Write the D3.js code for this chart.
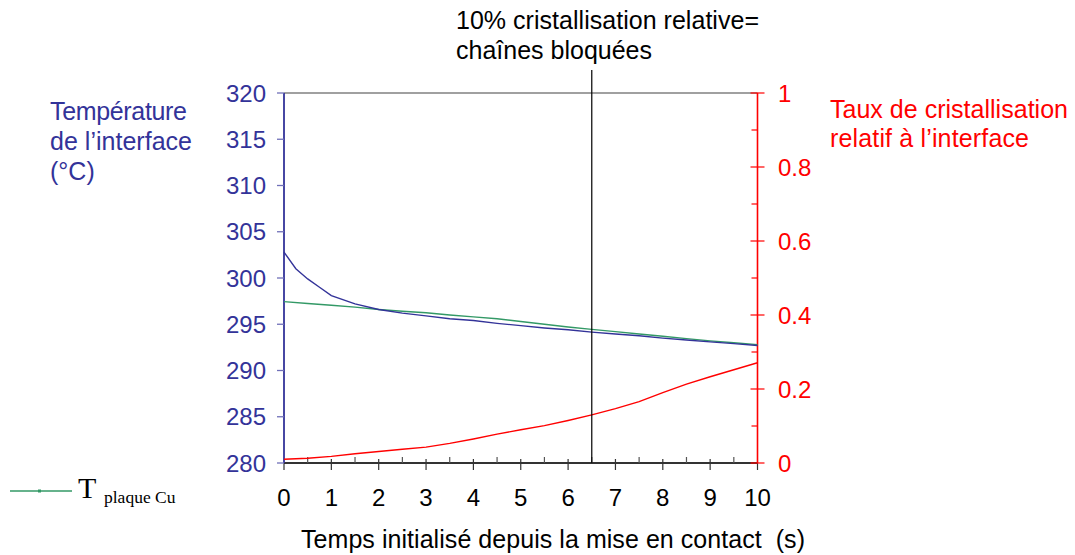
<!DOCTYPE html>
<html><head><meta charset="utf-8">
<script src="https://cdn.jsdelivr.net/npm/d3@7"></script>
<style>
html,body{margin:0;padding:0;background:#fff;}
svg{display:block;font-family:"Liberation Sans",Arial,sans-serif;}
</style></head>
<body>
<svg id="chart" width="1075" height="555"></svg>
<script>
// ---- data ----
const timeT = [0,0.25,0.5,0.75,1,1.5,2,2.5,3,3.5,4,4.5,5,5.5,6,6.5,7,7.5,8,8.5,9,9.5,10];
const tInterface = [302.8,301.0,299.9,299.0,298.1,297.2,296.6,296.2,295.9,295.6,295.4,295.1,294.85,294.6,294.4,294.15,293.95,293.75,293.5,293.3,293.1,292.9,292.7];
const timeG = [0,0.5,1,1.5,2,2.5,3,3.5,4,4.5,5,5.5,6,6.5,7,7.5,8,8.5,9,9.5,10];
const tPlaqueCu = [297.45,297.25,297.05,296.85,296.6,296.4,296.25,296.0,295.8,295.6,295.3,295.0,294.7,294.45,294.2,293.95,293.7,293.45,293.2,293.0,292.8];
const timeR = [0,0.5,1,1.5,2,2.5,3,3.5,4,4.5,5,5.5,6,6.5,7,7.5,8,8.5,9,9.5,10];
const tauxCrist = [0.010,0.013,0.018,0.025,0.031,0.037,0.043,0.053,0.065,0.078,0.090,0.101,0.115,0.130,0.147,0.166,0.190,0.213,0.233,0.252,0.271];
const xTicks = [0,1,2,3,4,5,6,7,8,9,10];
const xMinorTicks = [0.5,1.5,2.5,3.5,4.5,5.5,6.5,7.5,8.5,9.5];
const yLeftTicks = [280,285,290,295,300,305,310,315,320];
const yRightTicks = [0,0.2,0.4,0.6,0.8,1];
const yRightMinor = [0.1,0.3,0.5,0.7,0.9];
const markerTime = 6.5;

// ---- layout ----
const svg = d3.select("#chart");
const X0 = 284, X1 = 757.5, Y0 = 463, Y1 = 93;
const x = d3.scaleLinear().domain([0,10]).range([X0,X1]);
const yL = d3.scaleLinear().domain([280,320]).range([Y0,Y1]);
const yR = d3.scaleLinear().domain([0,1]).range([Y0,Y1]);

const BLUE = "#333399", GREEN = "#339966", RED = "#ff0000";
const TICKFS = 24;

// top border
svg.append("line").attr("x1",X0).attr("x2",X1).attr("y1",Y1).attr("y2",Y1)
  .attr("stroke","#808080").attr("stroke-width",1.5);

// x axis
svg.append("line").attr("x1",X0).attr("x2",X1).attr("y1",Y0).attr("y2",Y0)
  .attr("stroke","#333").attr("stroke-width",2);
svg.selectAll(".xmaj").data(xTicks).enter().append("line")
  .attr("x1",d=>x(d)).attr("x2",d=>x(d)).attr("y1",d=>(d===0||d===10)?Y0:Y0-4).attr("y2",Y0+7)
  .attr("stroke","#333").attr("stroke-width",1.2);
svg.selectAll(".xmin").data(xMinorTicks).enter().append("line")
  .attr("x1",d=>x(d)).attr("x2",d=>x(d)).attr("y1",Y0-6).attr("y2",Y0)
  .attr("stroke","#555").attr("stroke-width",1.2);
svg.selectAll(".xlab").data(xTicks).enter().append("text")
  .attr("x",d=>x(d)).attr("y",506).attr("text-anchor","middle")
  .attr("font-size",TICKFS).attr("fill","#000").text(d=>d);

// left axis
svg.append("line").attr("x1",X0).attr("x2",X0).attr("y1",Y1).attr("y2",Y0)
  .attr("stroke",BLUE).attr("stroke-width",1.8);
svg.selectAll(".ylt").data(yLeftTicks).enter().append("line")
  .attr("x1",X0-7).attr("x2",X0).attr("y1",d=>yL(d)).attr("y2",d=>yL(d))
  .attr("stroke","#7070b8").attr("stroke-width",1.3);
svg.selectAll(".yll").data(yLeftTicks).enter().append("text")
  .attr("x",266).attr("y",d=>yL(d)).attr("dy","0.36em").attr("text-anchor","end")
  .attr("font-size",TICKFS).attr("fill",BLUE).text(d=>d);

// right axis
svg.append("line").attr("x1",X1).attr("x2",X1).attr("y1",Y1).attr("y2",Y0)
  .attr("stroke",RED).attr("stroke-width",1.6);
svg.selectAll(".yrt").data(yRightTicks).enter().append("line")
  .attr("x1",X1-7).attr("x2",X1+7).attr("y1",d=>yR(d)).attr("y2",d=>yR(d))
  .attr("stroke",RED).attr("stroke-width",1.2);
svg.selectAll(".yrm").data(yRightMinor).enter().append("line")
  .attr("x1",X1-6).attr("x2",X1).attr("y1",d=>yR(d)).attr("y2",d=>yR(d))
  .attr("stroke",RED).attr("stroke-width",1.2);
svg.selectAll(".yrl").data(yRightTicks).enter().append("text")
  .attr("x",778).attr("y",d=>yR(d)).attr("dy","0.36em").attr("text-anchor","start")
  .attr("font-size",TICKFS).attr("fill",RED).text(d=>d);

// series
const lineL = (xs,ys)=>d3.line().x((d,i)=>x(xs[i])).y(d=>yL(d))(ys);
svg.append("path").attr("d",lineL(timeG,tPlaqueCu)).attr("fill","none")
  .attr("stroke",GREEN).attr("stroke-width",1.4);
svg.append("path").attr("d",lineL(timeT,tInterface)).attr("fill","none")
  .attr("stroke",BLUE).attr("stroke-width",1.4);
svg.append("path").attr("d",d3.line().x((d,i)=>x(timeR[i])).y(d=>yR(d))(tauxCrist))
  .attr("fill","none").attr("stroke",RED).attr("stroke-width",1.4);

// marker vertical line
svg.append("line").attr("x1",x(markerTime)).attr("x2",x(markerTime)).attr("y1",70).attr("y2",Y0)
  .attr("stroke","#000").attr("stroke-width",1.2);

function fitLine(parent, tx, ty, len, str){
  parent.append("tspan").attr("x",tx).attr("y",ty)
    .attr("textLength",len).attr("lengthAdjust","spacing").text(str);
}

// annotation
const ann = svg.append("text").attr("font-size",25).attr("fill","#000");
fitLine(ann,456,29,303,"10% cristallisation relative=");
fitLine(ann,456,59,196,"chaînes bloquées");

// left title
const lt = svg.append("text").attr("font-size",25).attr("fill",BLUE);
fitLine(lt,50,120,137,"Température");
fitLine(lt,50,150,142,"de l’interface");
lt.append("tspan").attr("x",50).attr("y",180).text("(°C)");

// right title
const rt = svg.append("text").attr("font-size",25).attr("fill",RED);
fitLine(rt,830,118,238,"Taux de cristallisation");
fitLine(rt,830,147,199,"relatif à l’interface");

// x title
svg.append("text").attr("x",301).attr("y",548).attr("font-size",25).attr("fill","#000")
  .attr("xml:space","preserve").attr("textLength",504).attr("lengthAdjust","spacing")
  .text("Temps initialisé depuis la mise en contact  (s)");

// legend
svg.append("line").attr("x1",10).attr("x2",72).attr("y1",491).attr("y2",491)
  .attr("stroke",GREEN).attr("stroke-width",1.4);
svg.append("rect").attr("x",38).attr("y",489.5).attr("width",3).attr("height",3).attr("fill",GREEN);
const lg = svg.append("text").attr("font-family","'Liberation Serif','Times New Roman',serif").attr("fill","#000");
lg.append("tspan").attr("x",78).attr("y",498).attr("font-size",30).text("T");
lg.append("tspan").attr("x",104).attr("y",503).attr("font-size",17.5).text("plaque Cu");
</script>
</body></html>
